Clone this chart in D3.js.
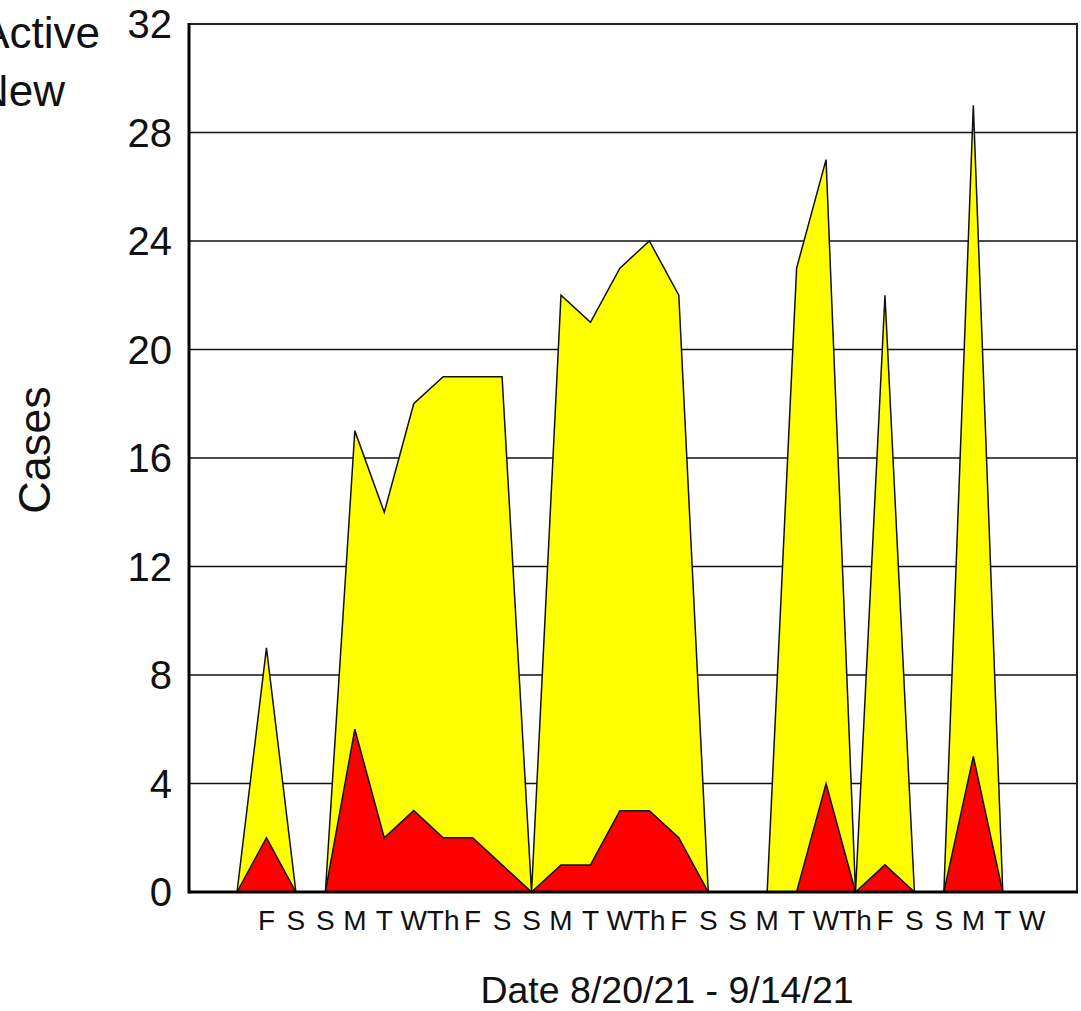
<!DOCTYPE html>
<html>
<head>
<meta charset="utf-8">
<script src="https://cdn.jsdelivr.net/npm/d3@7"></script>
<style>
  html, body { margin: 0; padding: 0; background: #fff; }
  svg { display: block; font-family: "Liberation Sans", Arial, sans-serif; }
</style>
</head>
<body>
<svg id="chart" width="1081" height="1011"></svg>
<script>
// Days from Thu 8/19/21 through Thu 9/16/21 (labels shown for 8/20 - 9/15)
const dayLabels = ["", "F", "S", "S", "M", "T", "W", "Th", "F", "S", "S", "M", "T", "W", "Th", "F", "S", "S", "M", "T", "W", "Th", "F", "S", "S", "M", "T", "W", ""];
const activeCases = [0, 9, 0, 0, 17, 14, 18, 19, 19, 19, 0, 22, 21, 23, 24, 22, 0, 0, 0, 23, 27, 0, 22, 0, 0, 29, 0, 0, 0];
const newCases    = [0, 2, 0, 0, 6, 2, 3, 2, 2, 1, 0, 1, 1, 3, 3, 2, 0, 0, 0, 0, 4, 0, 1, 0, 0, 5, 0, 0, 0];
const yTicks = [0, 4, 8, 12, 16, 20, 24, 28, 32];
const seriesNames = ["Active", "New"];
const xTitle = "Date 8/20/21 - 9/14/21";
const yTitle = "Cases";

const svg = d3.select("#chart");
const plot = { left: 189, right: 1077, top: 24, bottom: 892 };

const x = d3.scaleLinear().domain([-1.63, 28.52]).range([plot.left, plot.right]);
const y = d3.scaleLinear().domain([0, 32]).range([plot.bottom, plot.top]);

// gridlines
svg.append("g").selectAll("line").data(yTicks.slice(1, -1)).join("line")
  .attr("x1", plot.left).attr("x2", plot.right)
  .attr("y1", d => y(d)).attr("y2", d => y(d))
  .attr("stroke", "#111").attr("stroke-width", 1.5);

const idx = d3.range(activeCases.length);
const area = vals => d3.area()
  .x(i => x(i))
  .y0(y(0))
  .y1(i => y(vals[i]))(idx);

svg.append("path").attr("d", area(activeCases))
  .attr("fill", "#ffff00").attr("stroke", "#111").attr("stroke-width", 1.5);
svg.append("path").attr("d", area(newCases))
  .attr("fill", "#ff0000").attr("stroke", "#111").attr("stroke-width", 1.5);

// frame
svg.append("rect")
  .attr("x", plot.left).attr("y", plot.top)
  .attr("width", plot.right - plot.left).attr("height", plot.bottom - plot.top)
  .attr("fill", "none").attr("stroke", "#222").attr("stroke-width", 2);
svg.append("line").attr("x1", plot.left).attr("x2", plot.left)
  .attr("y1", plot.top - 1).attr("y2", plot.bottom + 1.5)
  .attr("stroke", "#000").attr("stroke-width", 3);
svg.append("line").attr("x1", plot.left).attr("x2", plot.right + 1)
  .attr("y1", plot.bottom).attr("y2", plot.bottom)
  .attr("stroke", "#000").attr("stroke-width", 3);

// y tick labels
svg.append("g").selectAll("text").data(yTicks).join("text")
  .attr("x", 172).attr("y", d => y(d)).attr("dy", "0.36em")
  .attr("text-anchor", "end").attr("font-size", 40).attr("fill", "#111")
  .text(d => d);

// x day labels
svg.append("g").selectAll("text").data(idx.filter(i => dayLabels[i] !== "")).join("text")
  .attr("x", i => x(i)).attr("y", 930)
  .attr("text-anchor", "middle").attr("font-size", 28).attr("fill", "#111")
  .text(i => dayLabels[i]);

// axis titles
svg.append("text").attr("x", 667).attr("y", 1003)
  .attr("text-anchor", "middle").attr("font-size", 37.5).attr("fill", "#111")
  .text(xTitle);
svg.append("text").attr("transform", "translate(50,450) rotate(-90)")
  .attr("text-anchor", "middle").attr("font-size", 45).attr("fill", "#111")
  .text(yTitle);

// legend (partially off-canvas, as in the source)
svg.append("text").attr("x", 100).attr("y", 48).attr("text-anchor", "end")
  .attr("font-size", 44).attr("fill", "#111").text(seriesNames[0]);
svg.append("text").attr("x", 65).attr("y", 106).attr("text-anchor", "end")
  .attr("font-size", 44).attr("fill", "#111").text(seriesNames[1]);
</script>
</body>
</html>
